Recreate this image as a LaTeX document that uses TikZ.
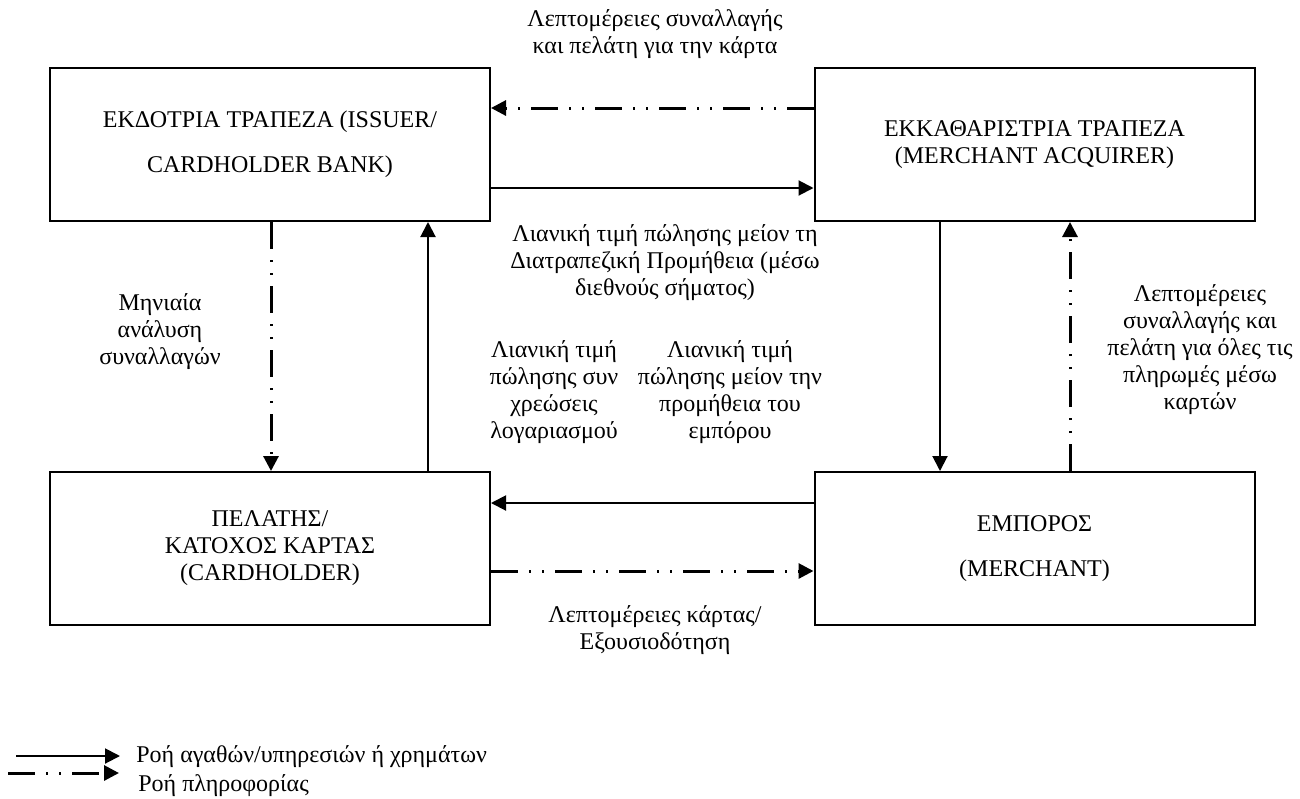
\documentclass[tikz,border=0pt]{standalone}
\usepackage{fontspec}
\setmainfont{Liberation Serif}
\usetikzlibrary{positioning,arrows.meta}

\begin{document}
\begin{tikzpicture}[x=0.5pt,y=-0.5pt,
  font=\fontsize{12}{13.5}\selectfont,
  party/.style={draw,line width=1pt,minimum width=220pt,minimum height=76.5pt,align=center,inner sep=0pt},
  lbl/.style={align=center,inner sep=0pt},
  money/.style={line width=1pt,-{Triangle[length=7.5pt,width=7.5pt]}},
  info/.style={line width=1.5pt,dash pattern=on 13.5pt off 5.5pt on 1pt off 5.5pt on 1pt off 5.5pt,
    -{Triangle[length=7.5pt,width=7.5pt]}}]
\useasboundingbox (0,0) rectangle (1300,798);

% the four parties
\node[party] (issuer) at (270,144.5) {ΕΚΔΟΤΡΙΑ ΤΡΑΠΕΖΑ (ISSUER/\\[9pt]CARDHOLDER BANK)};
\node[party] (acquirer) at (1034.5,144.5) {ΕΚΚΑΘΑΡΙΣΤΡΙΑ ΤΡΑΠΕΖΑ\\(MERCHANT ACQUIRER)};
\node[party] (holder) at (270,548.5) {ΠΕΛΑΤΗΣ/\\ΚΑΤΟΧΟΣ ΚΑΡΤΑΣ\\(CARDHOLDER)};
\node[party] (merchant) at (1034.5,548.5) {ΕΜΠΟΡΟΣ\\[9pt](MERCHANT)};

% flows between them
\draw[info] ([yshift=18.25pt]acquirer.west) -- ([yshift=18.25pt]issuer.east);
\draw[money] ([yshift=-21.75pt]issuer.east) -- ([yshift=-21.75pt]acquirer.west);
\draw[info] ([xshift=0.5pt]issuer.south) -- ([xshift=0.5pt]holder.north);
\draw[money] ([xshift=79pt]holder.north) -- ([xshift=79pt]issuer.south);
\draw[money] ([xshift=-47.25pt]acquirer.south) -- ([xshift=-47.25pt]merchant.north);
\draw[info] ([xshift=17.75pt]merchant.north) -- ([xshift=17.75pt]acquirer.south);
\draw[money] ([yshift=22.75pt]merchant.west) -- ([yshift=22.75pt]holder.east);
\draw[info] ([yshift=-11.25pt]holder.east) -- ([yshift=-11.25pt]merchant.west);

% labels
\node[lbl] (toplbl) at (655,34) {Λεπτομέρειες συναλλαγής\\και πελάτη για την κάρτα};
\node[lbl] (midlbl) at (665,263) {Λιανική τιμή πώλησης μείον τη\\Διατραπεζική Προμήθεια (μέσω\\διεθνούς σήματος)};
\node[lbl] (monthlbl) at (160,332) {Μηνιαία\\ανάλυση\\συναλλαγών};
\node[lbl] (pluslbl) at (554,392) {Λιανική τιμή\\πώλησης συν\\χρεώσεις\\λογαριασμού};
\node[lbl] (minuslbl) at (730,392) {Λιανική τιμή\\πώλησης μείον την\\προμήθεια του\\εμπόρου};
\node[lbl] (detlbl) at (1200,350) {Λεπτομέρειες\\συναλλαγής και\\πελάτη για όλες τις\\πληρωμές μέσω\\καρτών};
\node[lbl] (cardlbl) at (655,630) {Λεπτομέρειες κάρτας/\\Εξουσιοδότηση};

% legend
\coordinate (lgmoneyA) at (16,756);
\coordinate (lgmoneyB) at (120,756);
\coordinate (lginfoA) at (8,773);
\coordinate (lginfoB) at (119,773);
\draw[money] (lgmoneyA) -- (lgmoneyB);
\draw[info] (lginfoA) -- (lginfoB);
\node[lbl,anchor=west] (lgmoney) at (136,757) {Ροή αγαθών/υπηρεσιών ή χρημάτων};
\node[lbl,anchor=west] (lginfo) at (138,786) {Ροή πληροφορίας};
\end{tikzpicture}
\end{document}
